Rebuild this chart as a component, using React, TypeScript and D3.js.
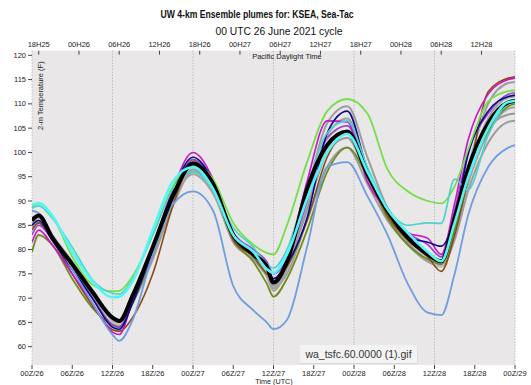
import React, { useEffect, useRef } from 'react'
import * as d3 from 'd3'

// forecast hours since 00Z 26 June (UTC)
const hours = [0, 1, 3, 6, 9, 12, 13, 15, 18, 21, 24, 27, 30, 33, 35, 36, 38, 41, 44, 47, 50, 53, 56, 59, 61, 63, 65, 68, 71, 72];

const ensMean = [86, 87, 82.5, 77, 71.3, 66, 65.3, 70.5, 80.5, 91, 97.7, 93.5, 83, 79, 76.5, 73.2, 77.5, 92.5, 101.5, 104.3, 95.5, 88, 82.5, 79, 77.6, 86.5, 96.5, 106, 110.3, 110.6];
const memBlue = [88, 87.5, 83, 76, 69, 62.5, 61.2, 65.5, 79, 89.3, 92, 88, 72.5, 67.5, 65, 63.6, 65.5, 80.5, 97, 98, 91, 83, 73, 67, 66.5, 75, 87, 97, 101, 101.5];
const memGreen = [88.8, 89.5, 87, 78.5, 72.8, 71.4, 71.5, 74.5, 83, 93, 97.5, 94.5, 85.5, 81, 79.3, 79, 85, 98, 108.5, 111, 108, 96.5, 92, 90, 89.5, 93, 100.5, 110.5, 112.6, 112.8];
const memCyan = [89.2, 89.6, 87, 79.5, 73.5, 70.2, 70.3, 73.5, 84, 94, 97, 92.5, 83, 79.5, 76, 75.2, 79, 90.5, 100, 103.8, 96, 88.3, 83.5, 79.5, 77.6, 85.5, 94.8, 105, 110.4, 110.6];
const memTurq = [88.5, 89, 86.5, 80.5, 73.8, 71, 70.8, 74, 83, 92.5, 96, 92.5, 84.5, 80.5, 77, 76.2, 80, 93, 104, 106.5, 97, 88.5, 85, 85.5, 85.4, 94.5, 92.3, 103.5, 110, 110.3];
const memMagenta = [81.5, 84, 81, 75, 69, 63, 62.5, 69.5, 80.5, 92.5, 100, 94.5, 83, 79.5, 76.5, 74, 78, 94, 106.5, 106.3, 94, 88, 83.5, 82.3, 79, 89.5, 102.5, 112, 115, 115.3];
const memNavy = [85, 86, 82, 76, 70, 64, 63.6, 69, 80, 92, 99, 94, 83, 79, 76, 74, 77, 86.5, 104, 108.5, 96.5, 88, 82.5, 81.5, 80.7, 86.4, 99.5, 108.5, 111.5, 111.8];
const memBrown = [84, 85.5, 82, 75, 68.5, 63.5, 63.2, 66, 75, 89, 98, 93, 82, 78.5, 75, 74, 76.5, 86, 99, 104, 96, 87, 82, 78.5, 75.5, 83, 94.5, 112.5, 115.3, 115.6];
const memOlive = [79.5, 83, 81, 74, 68, 64.5, 64, 69, 79, 91, 98.5, 93, 82, 77.5, 73, 70.3, 74, 84, 96, 101, 95, 86.5, 81, 78, 77, 84, 95, 104.5, 109.5, 110];
const memPurple = [83, 85, 82, 76, 70, 64.5, 64, 69.5, 79.5, 91, 98.5, 93.5, 83.5, 80, 77.5, 75, 78, 90, 103, 105.5, 96, 88.5, 83.5, 81, 78.5, 88, 100, 108, 112, 112.3];
const memGrey1 = [86.5, 87, 83, 77.5, 71, 66, 65.5, 71, 80, 91, 97.5, 93, 83, 79.5, 75.5, 73.5, 77.5, 92, 106, 109.5, 99, 88.5, 82.5, 79, 77.5, 86, 97, 110, 114.3, 114.5];
const memGrey2 = [84.5, 85.5, 82, 76, 70, 64.5, 64.2, 69, 78, 89, 96, 92, 81.5, 78, 74.5, 72, 75, 86, 97, 101, 93.5, 86, 81, 77.5, 76.5, 82, 92, 102, 106.3, 106.5];
const memGrey3 = [85.5, 86.5, 82.5, 76.5, 70.5, 65.5, 65, 70, 79, 90.5, 96.5, 92.5, 82.5, 79, 75, 72.5, 76.5, 88, 100, 103, 95, 87, 81.5, 78, 76.8, 84, 95, 105, 107.8, 108];
const memGrey4 = [86, 86.8, 83, 77, 71, 65.8, 65.2, 70.5, 80.5, 91.5, 97, 93, 83.5, 79.5, 76, 73, 78, 91, 103.5, 107, 96.5, 87.5, 82, 78.5, 77.2, 85, 96, 107, 111.3, 111.5];
const memGrey5 = [85, 86, 82, 76.5, 70.8, 65, 64.5, 70, 79, 90, 95.5, 91.5, 82, 78.5, 74.5, 71.5, 76, 89, 101, 104, 95.5, 87, 81.8, 78.5, 77, 83, 93.5, 104, 109, 109.3];
const memGrey6 = [85.8, 86.6, 82.8, 77.2, 71.5, 65, 64.6, 70, 79, 90.5, 97, 93, 83, 79.2, 75.5, 72.8, 77, 91, 102.5, 105.5, 96, 88, 82, 78, 76.5, 85, 95.5, 105.5, 110, 110.3];

const utcTicks = [0, 6, 12, 18, 24, 30, 36, 42, 48, 54, 60, 66, 72];
const utcLabels = ['00Z/26', '06Z/26', '12Z/26', '18Z/26', '00Z/27', '06Z/27', '12Z/27', '18Z/27', '00Z/28', '06Z/28', '12Z/28', '18Z/28', '00Z/29'];
const pdtTicks = [1, 7, 13, 19, 25, 31, 37, 43, 49, 55, 61, 67];
const pdtLabels = ['18H25', '00H26', '06H26', '12H26', '18H26', '00H27', '06H27', '12H27', '18H27', '00H28', '06H28', '12H28'];
const gridHours = [0, 12, 24, 36, 48, 60, 72];
const tempTicks = [60, 65, 70, 75, 80, 85, 90, 95, 100, 105, 110, 115, 120];

const W = 531;
const H = 385;
const font = '"Liberation Sans", Arial, Helvetica, sans-serif';

function App() {
    const ref = useRef(null);

    useEffect(() => {
        const svg = d3.select(ref.current);
        svg.selectAll('*').remove();

        const left = 32, right = 515, top = 50.7, bottom = 365;
        const x = d3.scaleLinear().domain([0, 72]).range([left, right]);
        const y = d3.scaleLinear().domain([60, 120]).range([346.7, 55.3]);

        svg.append('rect').attr('width', W).attr('height', H).attr('fill', '#fff');

        svg.append('defs').append('clipPath').attr('id', 'plot-clip')
            .append('rect')
            .attr('x', left).attr('y', top)
            .attr('width', right - left).attr('height', bottom - top);

        svg.append('rect')
            .attr('x', left).attr('y', top)
            .attr('width', right - left).attr('height', bottom - top)
            .attr('fill', '#e9e7e7');

        // dotted verticals every 12 h
        svg.append('g').selectAll('line').data(gridHours).enter().append('line')
            .attr('x1', d => x(d)).attr('x2', d => x(d))
            .attr('y1', top).attr('y2', bottom)
            .attr('stroke', '#a8a8a8').attr('stroke-width', 1)
            .attr('stroke-dasharray', '1,2');

        // titles
        svg.append('text').attr('x', 257).attr('y', 18)
            .attr('text-anchor', 'middle').attr('font-family', font)
            .attr('font-weight', 'bold').attr('font-size', 10.3)
            .attr('textLength', 193).attr('lengthAdjust', 'spacingAndGlyphs')
            .attr('fill', '#111')
            .text('UW 4-km Ensemble plumes for: KSEA, Sea-Tac');
        svg.append('text').attr('x', 279).attr('y', 35)
            .attr('text-anchor', 'middle').attr('font-family', font)
            .attr('font-size', 10.3).attr('fill', '#111')
            .text('00 UTC 26 June 2021 cycle');

        // top PDT axis
        const topAxis = svg.append('g');
        topAxis.selectAll('line').data(pdtTicks).enter().append('line')
            .attr('x1', d => x(d)).attr('x2', d => x(d))
            .attr('y1', top).attr('y2', top + 4)
            .attr('stroke', '#444');
        topAxis.selectAll('text').data(pdtTicks).enter().append('text')
            .attr('x', d => x(d)).attr('y', 47)
            .attr('text-anchor', 'middle').attr('font-family', font)
            .attr('font-size', 7.5).attr('fill', '#222')
            .text((d, i) => pdtLabels[i]);
        svg.append('text').attr('x', 287).attr('y', 58.5)
            .attr('text-anchor', 'middle').attr('font-family', font)
            .attr('font-size', 7.5).attr('fill', '#222')
            .text('Pacific Daylight Time');

        // bottom UTC axis
        const botAxis = svg.append('g');
        botAxis.selectAll('line').data(utcTicks).enter().append('line')
            .attr('x1', d => x(d)).attr('x2', d => x(d))
            .attr('y1', bottom).attr('y2', bottom + 4)
            .attr('stroke', '#444');
        botAxis.selectAll('text').data(utcTicks).enter().append('text')
            .attr('x', d => x(d)).attr('y', 375.5)
            .attr('text-anchor', 'middle').attr('font-family', font)
            .attr('font-size', 7.5).attr('fill', '#222')
            .text((d, i) => utcLabels[i]);
        svg.append('text').attr('x', 274).attr('y', 383.5)
            .attr('text-anchor', 'middle').attr('font-family', font)
            .attr('font-size', 7.2).attr('fill', '#222')
            .text('Time (UTC)');

        // left temperature axis
        const yAxis = svg.append('g');
        yAxis.selectAll('line').data(tempTicks).enter().append('line')
            .attr('x1', left - 4).attr('x2', left)
            .attr('y1', d => y(d)).attr('y2', d => y(d))
            .attr('stroke', '#444');
        yAxis.selectAll('text').data(tempTicks).enter().append('text')
            .attr('x', left - 6).attr('y', d => y(d) + 2.6)
            .attr('text-anchor', 'end').attr('font-family', font)
            .attr('font-size', 7.5).attr('fill', '#222')
            .text(d => d);
        svg.append('g').attr('clip-path', 'url(#plot-clip)')
            .append('text')
            .attr('transform', 'translate(43,130) rotate(-90)')
            .attr('font-family', font).attr('font-size', 7.5).attr('fill', '#222')
            .text('2-m Temperature (F)');

        // plumes
        const members = [
            { v: memGrey2, c: '#9c9c9c', w: 2 },
            { v: memGrey5, c: '#a3a3a3', w: 2 },
            { v: memGrey3, c: '#999999', w: 2 },
            { v: memGrey1, c: '#9e9e9e', w: 2 },
            { v: memGrey4, c: '#a0a0a0', w: 2 },
            { v: memGrey6, c: '#c4c4c4', w: 1.6 },
            { v: memOlive, c: '#6e8c1c', w: 1.8 },
            { v: memBrown, c: '#8b4a16', w: 1.6 },
            { v: memPurple, c: '#9b3bd0', w: 1.6 },
            { v: memMagenta, c: '#cc11cc', w: 1.6 },
            { v: memNavy, c: '#0a0a8a', w: 1.6 },
            { v: memBlue, c: '#6e9de0', w: 1.8 },
            { v: memGreen, c: '#74df48', w: 1.8 },
            { v: memTurq, c: '#4cd2cc', w: 1.6 },
            { v: ensMean, c: '#000000', w: 4 },
            { v: memCyan, c: '#52f6f4', w: 2.6 },
        ];
        const line = d3.line()
            .x((d, i) => x(hours[i]))
            .y(d => y(d))
            .curve(d3.curveMonotoneX);
        svg.append('g').attr('clip-path', 'url(#plot-clip)')
            .selectAll('path').data(members).enter().append('path')
            .attr('d', d => line(d.v))
            .attr('fill', 'none')
            .attr('stroke', d => d.c)
            .attr('stroke-width', d => d.w)
            .attr('stroke-linejoin', 'round');

        // file-name tooltip from the screenshot
        const tip = svg.append('g');
        tip.append('rect')
            .attr('x', 300).attr('y', 345).attr('width', 117).attr('height', 18)
            .attr('fill', '#cfcfcf').attr('transform', 'translate(0.5,1)').attr('opacity', 0.6);
        tip.append('rect')
            .attr('x', 300).attr('y', 345).attr('width', 117).attr('height', 18)
            .attr('fill', '#f3f3f3');
        tip.append('text').attr('x', 358.5).attr('y', 358)
            .attr('text-anchor', 'middle').attr('font-family', font)
            .attr('font-size', 10.5).attr('fill', '#333')
            .text('wa_tsfc.60.0000 (1).gif');
    }, []);

    return (
        <svg ref={ref} width={W} height={H}
            style={{ position: 'absolute', left: 0, top: 0, display: 'block' }} />
    );
}

export default App;
